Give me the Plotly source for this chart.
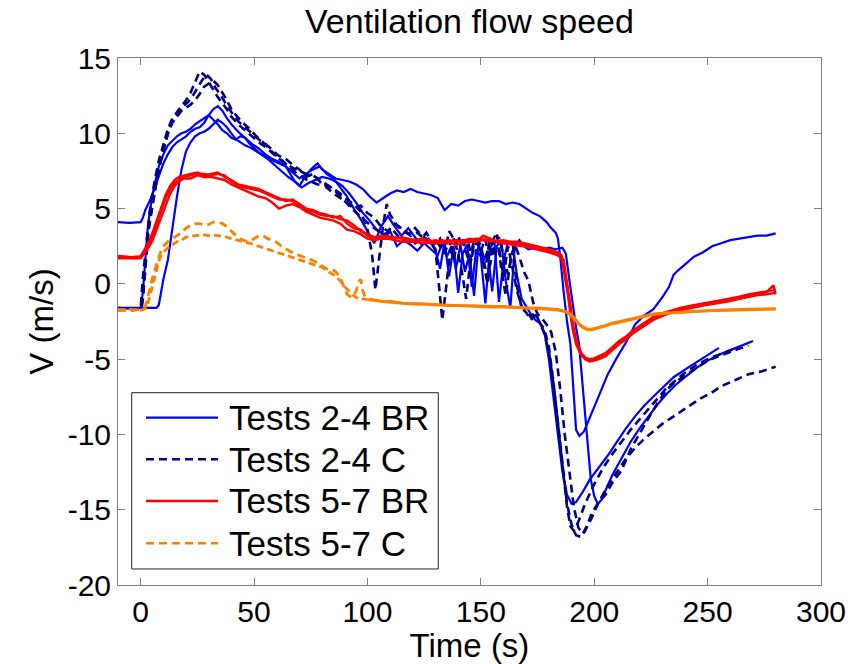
import plotly.graph_objects as go

# ---------------- data (time s, velocity m/s) ----------------
# Tests 2-4 BR (blue, solid)
br24_a = [(-10,4.1),(-5,4.05),(0,4.1),(1,4.4),(2,4.9),(4,5.5),(6,6.3),(8,7.2),(10,8.0),(12,8.6),(14,9.1),(16,9.4),(18,9.6),(20,9.8),(22,10.1),(24,10.3),(26,10.4),(28,10.7),(30,11.2),(32,11.6),(34,11.8),(36,11.5),(38,11.0),(40,10.6),(43,10.1),(46,9.7),(49,9.3),(52,9.0),(55,8.6),(58,8.3),(61,8.1),(64,7.8),(68,6.8),(70,6.5),(72,7.0),(75,7.6),(78,8.0),(80,7.6),(83,7.3),(86,7.0),(89,6.9),(92,6.8),(95,6.6),(98,6.3),(101,5.8),(104,5.4),(107,5.7),(110,6.0),(113,6.2),(116,6.1),(119,6.3),(122,6.1),(125,6.0),(128,5.9),(131,5.7),(134,4.9),(137,5.3),(140,5.2),(143,5.5),(146,5.6),(149,5.5),(152,5.4),(155,5.5),(158,5.5),(161,5.3),(164,5.4),(167,5.3),(170,5.0),(173,4.7),(176,4.5),(179,4.1),(181,3.7),(183,3.4),(184,3.0),(185,1.8),(186.5,-0.5),(188,-2.5),(189.5,-4.0),(190.5,-6.5),(191.2,-8.5),(192,-9.7),(193.5,-10.1),(195.5,-9.8),(198,-8.9),(202,-7.4),(206,-6.0),(210,-4.9),(214,-3.9),(218,-2.7),(222,-2.1),(226,-1.7),(230,-0.9),(233,-0.2),(235,0.6),(237,0.9),(240,1.3),(244,1.8),(248,2.1),(252,2.5),(256,2.7),(260,2.9),(264,3.0),(268,3.1),(272,3.2),(276,3.2),(280,3.35)]
br24_b = [(-10,-1.6),(-5,-1.65),(0,-1.6),(1,-0.5),(2,1.5),(3,3.5),(4,4.8),(6,6.5),(8,7.8),(10,8.6),(12,9.2),(14,9.5),(16,9.8),(18,10.0),(20,10.1),(22,10.3),(24,10.6),(26,10.8),(28,11.0),(30,11.2),(32,10.9),(34,10.6),(36,10.2),(38,10.0),(40,9.7),(43,9.5),(46,9.2),(49,9.0),(52,8.7),(55,8.5),(58,8.2),(61,8.0),(64,7.8),(67,7.4),(70,7.0),(73,7.3),(76,7.6),(79,7.8),(82,7.3),(85,7.0),(88,6.4),(91,5.8),(94,5.0),(97,4.3),(100,3.5),(103,2.7),(106,3.8),(109,4.5),(112,3.8),(115,3.2),(118,3.7),(121,3.1),(124,2.6),(127,3.0),(130,2.2),(132,1.0),(134,2.8),(136,0.5),(138,2.5),(140,-0.6),(142,2.0),(144,2.6),(146,-0.2),(148,2.3),(150,1.8),(152,-1.3),(154,2.4),(156,2.8),(158,-1.2),(160,1.5),(162,2.8),(164,2.6),(166,0.5),(168,-1.0),(170,-1.5),(172,-2.0),(174,-2.4),(176,-2.6),(178,-3.2),(180,-5.0),(182,-7.5),(184,-10.0),(186,-12.5),(188,-14.0),(190,-14.6),(192,-14.5),(195,-13.8),(198,-13.0),(202,-12.2),(206,-11.4),(210,-10.5),(214,-9.6),(218,-8.8),(222,-8.1),(226,-7.5),(230,-6.9),(235,-6.2),(242,-5.5),(248,-4.9),(255,-4.25)]
br24_c = [(-10,-1.6),(-5,-1.6),(0,-1.65),(5,-1.6),(7,-1.6),(8,-1.4),(9,-0.5),(10,0.3),(12,1.6),(14,3.8),(16,5.8),(18,7.6),(20,8.8),(22,9.4),(24,9.8),(26,10.0),(28,10.1),(30,10.3),(32,10.6),(34,10.9),(36,10.7),(38,10.4),(40,10.0),(42,9.6),(44,9.8),(46,9.7),(48,9.3),(50,9.0),(53,8.6),(56,8.3),(59,7.9),(62,7.5),(65,7.1),(68,6.8),(71,6.4),(74,6.7),(77,6.9),(80,7.1),(83,7.0),(86,6.8),(89,6.5),(92,6.0),(95,5.4),(98,4.7),(101,4.2),(104,3.6),(107,3.3),(110,3.5),(113,2.5),(116,2.9),(119,2.6),(122,2.2),(125,2.7),(128,2.3),(131,1.9),(133,2.7),(135,1.8),(137,2.5),(139,1.0),(141,2.6),(143,0.8),(145,2.0),(147,-0.8),(149,2.7),(151,1.5),(153,2.2),(155,-0.5),(157,2.5),(159,2.9),(161,0.2),(163,-1.6),(165,2.5),(167,2.9),(169,2.5),(171,2.3),(174,2.4),(177,2.3),(180,2.4),(183,2.3),(186,2.4),(187.5,2.0),(189,0.3),(190.5,-1.5),(192,-2.9),(193.3,-4.0),(194.5,-6.0),(196,-8.6),(197.5,-11.3),(198.5,-13.0),(200,-14.1),(201.5,-14.6),(203,-14.4),(205,-13.7),(208,-12.7),(212,-11.6),(216,-10.5),(220,-9.6),(224,-8.8),(228,-8.0),(232,-7.3),(236,-6.7),(240,-6.2),(245,-5.6),(250,-5.1),(255,-4.7),(260,-4.4),(265,-4.1),(270,-3.8)]

# Tests 2-4 C (navy, dashed)
c24_a = [(-10,-1.7),(-5,-1.75),(-1,-1.7),(0,-1.6),(1,0.5),(2,2.0),(3,3.6),(4,4.8),(5,5.8),(6,6.7),(8,8.2),(10,9.3),(12,10.3),(14,11.0),(16,11.4),(18,11.8),(20,12.2),(22,12.7),(24,13.4),(26,14.1),(28,13.9),(30,13.4),(32,12.9),(34,12.4),(36,12.0),(38,11.6),(40,11.1),(43,10.6),(46,10.2),(49,9.8),(52,9.4),(55,9.1),(58,8.7),(61,8.3),(64,8.0),(67,7.7),(70,7.5),(73,7.3),(76,7.2),(79,6.9),(82,6.6),(85,6.3),(88,6.0),(91,5.6),(94,5.3),(97,4.8),(100,3.6),(102,2.0),(103.5,-0.4),(105,1.5),(107,4.0),(108.5,5.3),(110,4.6),(113,3.9),(116,3.6),(119,3.2),(122,3.4),(125,3.0),(128,2.7),(130,2.9),(132,2.5),(134,2.0),(136,2.9),(138,1.5),(140,3.2),(142,2.4),(144,3.0),(146,1.8),(148,2.8),(150,2.2),(152,3.0),(154,1.2),(156,2.6),(158,3.1),(160,1.8),(162,0.6),(164,2.2),(166,-0.2),(168,-1.6),(170,-1.9),(172,-2.4),(174,-2.1),(176,-2.6),(178,-3.0),(180,-4.2),(182,-6.5),(184,-9.3),(186,-12.3),(188,-14.8),(189.5,-16.1),(191,-16.4),(193,-15.8),(196,-14.6),(200,-13.3),(204,-12.2),(208,-11.3),(212,-10.5),(216,-9.7),(220,-9.0),(224,-8.3),(228,-7.6),(232,-6.9),(236,-6.4),(240,-5.9),(245,-5.4),(250,-5.0),(255,-4.7),(260,-4.4),(264,-4.2)]
c24_b = [(-10,-1.75),(-5,-1.7),(0,-1.7),(0.5,-1.6),(1.5,0.0),(2.5,2.0),(3.5,3.6),(5,5.0),(7,6.9),(9,8.3),(11,9.5),(13,10.5),(15,11.0),(17,11.4),(19,11.8),(21,12.1),(23,12.5),(25,13.0),(27,13.5),(29,13.9),(31,13.6),(33,13.0),(35,12.6),(37,12.1),(40,11.4),(43,10.8),(46,10.4),(49,10.0),(52,9.6),(55,9.3),(58,8.9),(61,8.5),(64,8.3),(67,7.9),(70,7.6),(73,7.1),(76,7.3),(79,6.8),(82,6.4),(85,6.0),(88,5.7),(91,5.4),(94,5.0),(97,5.2),(100,4.7),(103,4.4),(106,3.8),(109,3.5),(112,4.0),(115,3.6),(118,3.3),(121,3.7),(124,3.2),(127,2.9),(130,2.3),(131.5,0.0),(133,-2.4),(134.5,-0.5),(136,1.5),(138,3.0),(140,2.5),(142,2.8),(145,1.4),(147,3.0),(150,2.6),(152,1.0),(154,3.1),(156,2.0),(158,2.4),(160,0.5),(162,2.5),(164,1.0),(166,-0.5),(168,-1.5),(170,-1.8),(172,-2.2),(174,-1.9),(176,-2.6),(178,-3.3),(180,-4.5),(182,-6.6),(184,-9.2),(186,-12.0),(188,-14.6),(190,-16.0),(192,-16.7),(194,-16.8),(196,-16.4),(199,-15.5),(202,-14.5),(206,-13.4),(210,-12.5),(214,-11.6),(218,-10.9),(222,-10.3),(226,-9.8),(230,-9.3),(234,-8.9),(238,-8.5),(242,-8.1),(247,-7.6),(252,-7.2),(256,-6.8),(262,-6.4),(268,-6.0),(274,-5.8),(280,-5.5)]
c24_c = [(-10,-1.7),(-5,-1.75),(0,-1.7),(1,-1.0),(2,1.0),(3,3.0),(4,4.2),(6,6.0),(8,7.6),(10,8.9),(12,10.0),(14,10.7),(16,11.1),(18,11.5),(20,11.7),(22,11.9),(24,12.2),(26,12.6),(28,13.1),(30,13.3),(32,13.5),(34,13.2),(36,12.7),(38,12.2),(40,11.6),(42,11.2),(45,10.7),(48,10.3),(51,9.8),(54,9.4),(57,8.9),(60,8.5),(63,8.1),(66,7.7),(69,7.3),(72,7.0),(75,6.8),(78,6.6),(81,6.6),(84,6.4),(87,6.0),(90,5.5),(93,5.0),(96,4.6),(99,4.2),(102,3.8),(105,3.5),(108,3.2),(111,3.6),(114,3.1),(117,3.0),(120,2.6),(123,2.9),(126,3.4),(129,2.6),(132,3.0),(134,2.0),(136,3.5),(138,3.0),(140,2.0),(142,0.5),(143.5,-1.0),(145,1.0),(147,2.7),(149,3.0),(151,1.5),(153,0.0),(155,2.8),(157,3.4),(159,1.0),(161,-0.8),(163,1.5),(165,2.6),(167,1.8),(169,0.8),(171,0.2),(173,-1.2),(175,-2.0),(177,-2.3),(179,-2.7),(181,-3.2),(183,-4.5),(185,-7.0),(187,-10.0),(189,-12.6),(191,-14.8),(193,-16.2),(195,-16.6),(197,-16.0),(199,-15.2),(202,-14.5),(205,-14.0),(208,-13.2),(212,-12.4),(216,-11.0),(220,-9.9),(224,-8.9),(228,-7.9),(232,-7.0),(236,-6.5),(240,-6.1),(245,-5.6),(250,-5.1),(255,-4.8),(260,-4.5),(264,-4.3),(268,-4.1)]

# Tests 5-7 BR (red, solid)
br57_a = [(-10,1.8),(-6,1.75),(-2,1.8),(0,1.8),(1,2.0),(3,2.5),(5,3.0),(7,4.0),(9,4.9),(11,5.7),(13,6.3),(15,6.7),(17,6.9),(19,7.1),(22,7.2),(25,7.3),(28,7.3),(31,7.2),(34,7.3),(37,7.2),(40,6.8),(43,6.5),(46,6.4),(49,6.3),(52,6.2),(55,6.0),(58,5.8),(61,5.6),(64,5.6),(67,5.5),(70,5.2),(73,4.9),(76,4.8),(79,4.6),(82,4.5),(85,4.5),(88,4.3),(91,4.2),(94,3.9),(97,3.5),(100,3.3),(103,3.1),(106,3.2),(109,3.1),(112,3.1),(115,3.0),(118,2.9),(121,2.95),(124,2.9),(127,2.8),(130,2.9),(133,2.8),(136,2.9),(139,2.8),(142,2.9),(145,2.9),(148,3.0),(151,2.95),(154,2.8),(157,2.9),(160,2.8),(163,2.75),(166,2.7),(169,2.6),(172,2.55),(175,2.4),(178,2.3),(180,2.25),(182,2.1),(184,2.0),(185.5,1.8),(186.5,1.0),(187.5,0.0),(188.5,-0.8),(189.5,-2.0),(190.5,-3.0),(192,-4.0),(194,-4.6),(196,-4.9),(198,-5.0),(200,-4.95),(202,-4.8),(205,-4.6),(208,-4.2),(211,-3.8),(214,-3.5),(217,-3.1),(220,-2.8),(223,-2.5),(226,-2.2),(229,-2.0),(232,-1.85),(235,-1.7),(238,-1.6),(241,-1.5),(244,-1.4),(248,-1.3),(252,-1.2),(256,-1.1),(260,-1.0),(264,-0.85),(268,-0.7),(272,-0.6),(276,-0.5),(280,-0.4)]
br57_b = [(-10,1.7),(-6,1.7),(-2,1.75),(0,1.7),(1,1.9),(3,2.3),(5,2.8),(7,3.6),(9,4.5),(11,5.3),(13,6.0),(15,6.5),(17,6.8),(19,7.0),(22,7.0),(25,7.2),(28,7.1),(31,7.1),(34,7.0),(37,6.9),(40,6.6),(43,6.4),(46,6.2),(49,6.0),(52,5.8),(55,5.7),(58,5.4),(61,5.0),(64,5.2),(67,5.3),(70,5.1),(73,4.8),(76,4.6),(79,4.4),(82,4.3),(85,4.2),(88,4.0),(91,3.6),(94,3.5),(97,3.3),(100,3.0),(103,2.9),(106,3.0),(109,3.0),(112,2.9),(115,2.8),(118,2.8),(121,2.8),(124,2.7),(127,2.75),(130,2.7),(133,2.7),(136,2.75),(139,2.6),(142,2.7),(145,2.8),(148,2.8),(151,3.2),(154,3.0),(157,2.75),(160,2.7),(163,2.6),(166,2.55),(169,2.5),(172,2.4),(175,2.3),(178,2.2),(180,2.1),(182,2.0),(184,1.9),(185.5,1.7),(186.5,1.6),(187.5,0.6),(188.5,-0.3),(189.5,-1.4),(190.5,-2.6),(192,-3.7),(194,-4.5),(196,-5.0),(198,-5.15),(200,-5.1),(202,-5.0),(205,-4.8),(208,-4.4),(211,-4.0),(214,-3.7),(217,-3.3),(220,-3.0),(223,-2.7),(226,-2.4),(229,-2.2),(232,-2.0),(235,-1.85),(238,-1.75),(241,-1.65),(244,-1.55),(248,-1.45),(252,-1.35),(256,-1.25),(260,-1.15),(264,-1.0),(268,-0.85),(272,-0.75),(276,-0.7),(280,-0.6)]
br57_c = [(-10,1.85),(-6,1.8),(-2,1.7),(0,1.85),(1,2.1),(3,2.6),(5,3.3),(7,4.2),(9,5.1),(11,5.9),(13,6.5),(15,6.9),(17,7.1),(19,7.2),(22,7.3),(25,7.4),(28,7.2),(31,7.3),(34,7.4),(37,7.1),(40,6.9),(43,6.6),(46,6.5),(49,6.4),(52,6.3),(55,6.1),(58,5.9),(61,5.7),(64,5.5),(67,5.6),(70,5.3),(73,5.0),(76,4.9),(79,4.7),(82,4.6),(85,4.4),(88,4.5),(91,4.0),(94,3.7),(97,3.6),(100,3.2),(103,3.0),(106,3.1),(109,3.2),(112,3.0),(115,3.1),(118,3.0),(121,2.9),(124,3.0),(127,2.9),(130,2.8),(133,2.9),(136,2.8),(139,2.9),(142,2.8),(145,3.0),(148,2.9),(151,2.9),(154,2.9),(157,2.8),(160,2.9),(163,2.8),(166,2.8),(169,2.7),(172,2.6),(175,2.5),(178,2.4),(180,2.3),(182,2.2),(184,2.1),(185.5,1.9),(186.5,1.3),(187.5,0.3),(188.5,-0.6),(189.5,-1.7),(190.5,-2.8),(192,-3.9),(194,-4.7),(196,-5.0),(198,-5.1),(200,-5.0),(202,-4.9),(205,-4.7),(208,-4.3),(211,-3.9),(214,-3.6),(217,-3.2),(220,-2.9),(223,-2.6),(226,-2.3),(229,-2.1),(232,-1.9),(235,-1.8),(238,-1.65),(241,-1.55),(244,-1.45),(248,-1.35),(252,-1.25),(256,-1.15),(260,-1.05),(264,-0.9),(268,-0.8),(272,-0.7),(276,-0.55),(279,-0.1),(280,-0.7)]

# Tests 5-7 C (orange, dashed)
c57_a = [(-10,-1.7),(-5,-1.75),(0,-1.7),(2,-1.5),(3,-1.0),(4,-0.3),(5,0.3),(6,0.8),(7,1.3),(8,1.8),(9,2.2),(10,2.5),(12,2.8),(14,3.0),(16,3.2),(18,3.4),(20,3.7),(22,3.9),(24,4.0),(26,4.0),(28,3.9),(30,3.95),(32,4.1),(34,4.1),(36,4.0),(38,3.8),(40,3.5),(42,3.2),(44,3.0),(46,2.85),(48,2.8),(50,3.0),(52,3.2),(54,3.2),(56,3.0),(58,2.9),(60,2.75),(62,2.5),(64,2.3),(66,2.15),(68,2.0),(70,1.9),(72,1.8),(74,1.65),(76,1.55),(78,1.4),(80,1.2),(82,1.0),(84,1.0),(86,0.8),(88,0.4),(89,0.0),(90,-0.3),(91,-0.7),(93,-0.9),(95,-0.5),(96,0.1),(97,0.3),(98,-0.5),(99,-0.9),(101,-1.0),(104,-1.1),(107,-1.2),(110,-1.15),(113,-1.25),(116,-1.3),(120,-1.3),(125,-1.35),(130,-1.4),(135,-1.4),(140,-1.45),(145,-1.45),(150,-1.5),(155,-1.5),(160,-1.5),(165,-1.55),(170,-1.6),(175,-1.6),(180,-1.65),(184,-1.7),(187,-1.8),(189,-1.95),(191,-2.2),(193,-2.6),(195,-2.85),(197,-3.0),(199,-3.0),(202,-2.9),(205,-2.75),(208,-2.6),(211,-2.5),(214,-2.4),(218,-2.25),(222,-2.1),(226,-2.0),(230,-1.95),(235,-1.9),(240,-1.85),(245,-1.8),(250,-1.78),(255,-1.75),(260,-1.72),(265,-1.7),(270,-1.7),(275,-1.68),(280,-1.65)]
c57_b = [(-10,-1.75),(-5,-1.7),(0,-1.75),(2,-1.65),(3,-1.4),(4,-0.8),(5,-0.2),(6,0.4),(7,0.9),(8,1.5),(9,1.9),(10,2.1),(12,2.4),(14,2.6),(16,2.8),(18,2.9),(20,3.1),(22,3.15),(24,3.2),(26,3.25),(28,3.25),(30,3.2),(32,3.25),(34,3.2),(36,3.1),(38,3.1),(40,3.0),(42,2.95),(44,2.85),(46,2.75),(48,2.7),(50,2.6),(52,2.5),(54,2.45),(56,2.35),(58,2.25),(60,2.15),(62,2.0),(64,1.9),(66,1.8),(68,1.7),(70,1.6),(72,1.5),(74,1.4),(76,1.35),(78,1.25),(80,1.1),(82,0.9),(84,0.7),(86,0.5),(88,0.2),(90,-0.2),(92,-0.5),(94,-0.8),(96,-1.0),(98,-1.0),(100,-1.05),(104,-1.15),(108,-1.2),(112,-1.25),(116,-1.3),(120,-1.35),(125,-1.35),(130,-1.4),(135,-1.45),(140,-1.45),(145,-1.5),(150,-1.5),(155,-1.55),(160,-1.55),(165,-1.6),(170,-1.6),(175,-1.65),(180,-1.7),(184,-1.75),(187,-1.85),(189,-2.0),(191,-2.3),(193,-2.65),(195,-2.9),(197,-3.05),(199,-3.05),(202,-2.95),(205,-2.8),(208,-2.65),(211,-2.55),(214,-2.45),(218,-2.3),(222,-2.15),(226,-2.05),(230,-1.98),(235,-1.92),(240,-1.88),(245,-1.83),(250,-1.8),(255,-1.77),(260,-1.74),(265,-1.72),(270,-1.71),(275,-1.7),(280,-1.68)]

x_ticks = [0, 50, 100, 150, 200, 250, 300]
y_ticks = [-20, -15, -10, -5, 0, 5, 10, 15]
x_ticklabels = ["0", "50", "100", "150", "200", "250", "300"]
y_ticklabels = ["-20", "-15", "-10", "-5", "0", "5", "10", "15"]

# (name, curves, colour, dash per curve, width, time from which the dense noisy
#  record renders as a continuous stroke)
series = [
    ("Tests 2-4 BR", [br24_a, br24_b, br24_c], "#0000FF", ["solid"] * 3, 2.2, None),
    ("Tests 2-4 C", [c24_a, c24_b, c24_c], "#000080", ["8px,5px"] * 3, 2.6, None),
    ("Tests 5-7 BR", [br57_a, br57_b, br57_c], "#FF0000", ["solid"] * 3, 2.4, None),
    ("Tests 5-7 C", [c57_a, c57_b], "#FF8000", ["8px,5px", "7px,4px"], 2.8, 100),
]

FONT = "Liberation Sans, Arial, Helvetica, sans-serif"

fig = go.Figure()
for name, curves, color, dashes, width, solid_from in series:
    for i, curve in enumerate(curves):
        if solid_from is None:
            parts = [(curve, dashes[i])]
        else:
            parts = [([p for p in curve if p[0] <= solid_from], dashes[i]),
                     ([p for p in curve if p[0] >= solid_from], "solid")]
        for pts, dsh in parts:
            fig.add_trace(go.Scatter(
                x=[p[0] for p in pts], y=[p[1] for p in pts], mode="lines",
                name=name, legendgroup=name, showlegend=False,
                line=dict(color=color, width=width, dash=dsh),
            ))

# MATLAB-style legend box (long line samples), placed in the axes' paper space
leg_box = dict(x0=0.0195, x1=0.4556, y0=0.0304, y1=0.3649)
leg_rows = [0.3175, 0.2385, 0.1594, 0.0791]
leg_line_x = (0.0398, 0.1422)
leg_text_x = 0.1546
shapes = [dict(type="rect", xref="paper", yref="paper", layer="above",
               line=dict(color="#222222", width=1), fillcolor="white", **leg_box)]
annotations = []
for (name, curves, color, dashes, width, _), ry in zip(series, leg_rows):
    shapes.append(dict(type="line", xref="paper", yref="paper", layer="above",
                       x0=leg_line_x[0], x1=leg_line_x[1], y0=ry, y1=ry,
                       line=dict(color=color, width=min(width, 2.6), dash=dashes[0])))
    annotations.append(dict(text=name, xref="paper", yref="paper", x=leg_text_x, y=ry,
                            xanchor="left", yanchor="middle", showarrow=False,
                            font=dict(family=FONT, size=35, color="black")))

axis_common = dict(
    showline=True, linecolor="#808080", linewidth=1, mirror="ticks",
    ticks="inside", ticklen=7, tickcolor="#808080", tickwidth=1,
    showgrid=False, zeroline=False,
    tickfont=dict(family=FONT, size=30, color="black"),
)

fig.update_layout(
    width=866, height=664, autosize=False,
    margin=dict(l=118, r=45, t=58, b=79),
    paper_bgcolor="white", plot_bgcolor="white",
    font=dict(family=FONT, color="black"),
    title=dict(text="Ventilation flow speed", x=0.5, xref="paper", xanchor="center",
               y=1 - 21 / 664, yref="container", yanchor="middle",
               font=dict(family=FONT, size=34, color="black")),
    xaxis=dict(range=[-10, 300], tickvals=x_ticks, ticktext=x_ticklabels,
               title=dict(text="Time (s)", font=dict(family=FONT, size=33), standoff=8),
               automargin=False, **axis_common),
    yaxis=dict(range=[-20, 15], tickvals=y_ticks, ticktext=y_ticklabels,
               title=dict(text="V (m/s)", font=dict(family=FONT, size=33), standoff=4),
               automargin=False, **axis_common),
    shapes=shapes,
    annotations=annotations,
    showlegend=False,
)

fig.write_html("out.html")
